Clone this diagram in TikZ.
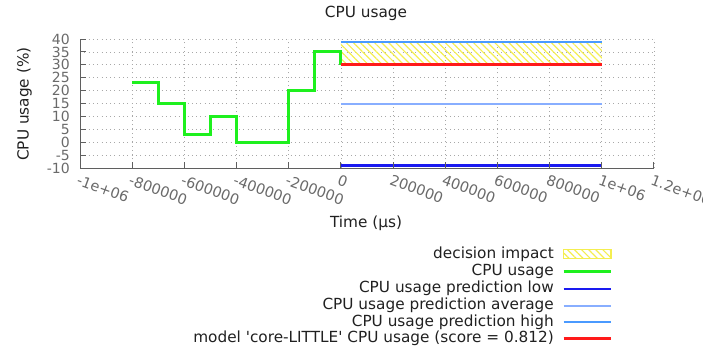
\documentclass[tikz,border=0pt]{standalone}
\usepackage{fontspec}
\setmainfont{DejaVu Sans}
\usetikzlibrary{patterns.meta}

\definecolor{axisgray}{HTML}{5F5F5F}
\definecolor{ticktext}{HTML}{6A6A6A}
\definecolor{gridgray}{HTML}{A8A8A8}
\definecolor{labeltext}{HTML}{202020}
\definecolor{usagegreen}{HTML}{1EF01E}
\definecolor{lowblue}{HTML}{1A1AF0}
\definecolor{avgblue}{HTML}{88AEFF}
\definecolor{highblue}{HTML}{4A9AFF}
\definecolor{modelred}{HTML}{FF1A1A}
\definecolor{hatchyellow}{HTML}{F4EE50}

\tikzset{
  gridline/.style={gridgray, line width=0.8pt, dash pattern=on 1pt off 3.3pt},
  axisline/.style={axisgray, line width=1pt},
  tickmark/.style={axisgray, line width=1pt},
  xticklabel/.style={ticktext, anchor=north west, inner sep=0pt, rotate=-20,
    font=\fontsize{14.5}{16}\selectfont},
  yticklabel/.style={ticktext, anchor=east, inner sep=0pt,
    font=\fontsize{14}{15}\selectfont},
  textlabel/.style={labeltext, inner sep=0pt, font=\fontsize{15.3}{18}\selectfont},
  usageline/.style={usagegreen, line width=3pt},
  lowline/.style={lowblue, line width=2.4pt},
  avgline/.style={avgblue, line width=2pt},
  highline/.style={highblue, line width=2pt},
  modelline/.style={modelred, line width=3pt},
  impactfill/.style={pattern={Lines[angle=-45, distance=5pt, line width=1.2pt]},
    pattern color=hatchyellow},
}

\begin{document}
\begin{tikzpicture}[x=1pt, y=-1pt]
\useasboundingbox (0,0) rectangle (703,354);

% plot area: data x in units of 1e5 us, data y in percent
\begin{scope}[shift={(340.9,142.2)}, x=26.09pt, y=2.58pt]
  % dotted grid
  \foreach \gx in {-8,-6,...,12}
    \draw[gridline] (\gx,-10) -- (\gx,40);
  \foreach \gy in {-5,0,...,40}
    \draw[gridline] (-10,\gy) -- (12,\gy);

  % decision impact band
  \fill[impactfill] (0,30) rectangle (10,39);

  % measured CPU usage
  \draw[usageline, line join=miter] (-8,23) -- (-7,23) -- (-7,15) -- (-6,15) -- (-6,3)
    -- (-5,3) -- (-5,10) -- (-4,10) -- (-4,0) -- (-2,0) -- (-2,20) -- (-1,20)
    -- (-1,35) -- (0,35) -- (0,30);

  % predictions and model
  \draw[lowline] (0,-9) -- (10,-9);
  \draw[avgline] (0,15) -- (10,15);
  \draw[highline] (0,39) -- (10,39);
  \draw[modelline] (0,30) -- (10,30);

  % axes and ticks
  \draw[axisline] (-10,40) -- (-10,-10) -- (12,-10);
  \foreach \gx in {-10,-8,...,12}
    \draw[tickmark] (\gx,-10) -- ++(0,2.33);
  \foreach \gy in {-10,-5,...,40}
    \draw[tickmark] (-10,\gy) -- ++(0.23,0);

  % tick labels
  \foreach \gx/\lab in {-10/-1e+06, -8/-800000, -6/-600000, -4/-400000, -2/-200000,
      0/0, 2/200000, 4/400000, 6/600000, 8/800000, 10/1e+06, 12/1.2e+06}
    \node[xticklabel, xshift=1.5pt, yshift=-6pt] (xt\gx) at (\gx,-10) {\lab};
  \foreach \gy in {-10,-5,...,40}
    \node[yticklabel, xshift=-10pt] (yt\gy) at (-10,\gy) {\gy};
\end{scope}

% titles
\node[textlabel, anchor=base] (title) at (366,17.3) {CPU usage};
\node[textlabel, anchor=base, rotate=90] (ylabel) at (28.5,104) {CPU usage (\%)};
\node[textlabel, anchor=base] (xlabel) at (366,227) {Time (µs)};

% legend
\node[textlabel, anchor=base east] (lg1) at (554,258) {decision impact};
\node[textlabel, anchor=base east] (lg2) at (554,275.7) {CPU usage};
\node[textlabel, anchor=base east] (lg3) at (554,292.7) {CPU usage prediction low};
\node[textlabel, anchor=base east] (lg4) at (554,309.7) {CPU usage prediction average};
\node[textlabel, anchor=base east] (lg5) at (554,326.3) {CPU usage prediction high};
\node[textlabel, anchor=base east] (lg6) at (554,342.3)
  {model \textquotesingle core-LITTLE\textquotesingle{} CPU usage (score = 0.812)};

\draw[impactfill] (563.5,249.5) rectangle (611,258.5);
\draw[hatchyellow, line width=1.3pt] (563.5,249.5) rectangle (611,258.5);
\draw[usageline, line width=2.6pt] (563.5,271.7) -- (611,271.7);
\draw[lowline, line width=2.2pt] (563.5,288.7) -- (611,288.7);
\draw[avgline] (563.5,305.7) -- (611,305.7);
\draw[highline] (563.5,322.3) -- (611,322.3);
\draw[modelline, line width=2.6pt] (563.5,338.3) -- (611,338.3);
\end{tikzpicture}
\end{document}
